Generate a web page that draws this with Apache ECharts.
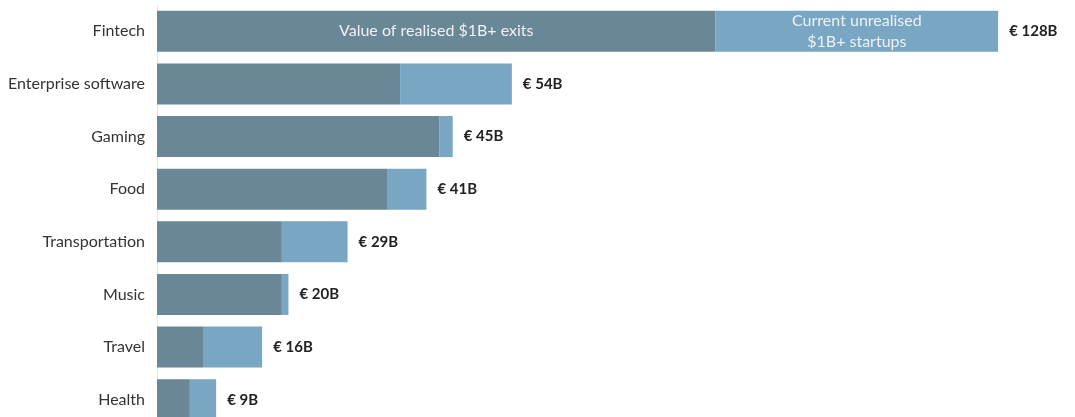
<!DOCTYPE html>
<html>
<head>
<meta charset="utf-8">
<script src="https://cdn.jsdelivr.net/npm/echarts@6/dist/echarts.min.js"></script>
<style>
  html, body { margin: 0; padding: 0; background: #fff; }
  #chart { width: 1075px; height: 417px; }
</style>
</head>
<body>
<div id="chart"></div>
<script>
// sectors, top to bottom
var sectors = ['Fintech', 'Enterprise software', 'Gaming', 'Food', 'Transportation', 'Music', 'Travel', 'Health'];
// € billions
var realised = [85, 37, 43, 35, 19, 19, 7, 5];
var unrealised = [43, 17, 2, 6, 10, 1, 9, 4];
var totals = [128, 54, 45, 41, 29, 20, 16, 9];

var DARK = '#6a8798';
var LIGHT = '#78a6c3';

var chart = echarts.init(document.getElementById('chart'));

var captionStyle = {
    show: true,
    position: 'inside',
    color: '#eef2f5',
    fontSize: 16,
    lineHeight: 21,
    fontWeight: 'normal',
    fontFamily: 'Lato'
};

// only the first bar of each series carries the in-bar caption
var realisedData = realised.map(function (v, i) {
    if (i !== 0) return v;
    return { value: v, label: Object.assign({}, captionStyle, { formatter: 'Value of realised $1B+ exits' }) };
});
var unrealisedData = unrealised.map(function (v, i) {
    if (i !== 0) return v;
    return { value: v, label: Object.assign({}, captionStyle, { formatter: 'Current unrealised\n$1B+ startups' }) };
});

var option = {
    animation: false,
    grid: {
        left: 157,
        top: 5,
        width: 920,
        height: 421,
        containLabel: false,
        outerBoundsMode: 'none'
    },
    xAxis: {
        type: 'value',
        min: 0,
        max: 140,
        show: false
    },
    yAxis: {
        type: 'category',
        inverse: true,
        data: sectors,
        axisLine: { show: true, lineStyle: { color: '#e6e6e6', width: 1 } },
        axisTick: { show: false },
        axisLabel: {
            color: '#333',
            fontSize: 16,
            fontFamily: 'Lato',
            margin: 12
        }
    },
    series: [
        {
            name: 'Realised',
            type: 'bar',
            stack: 'total',
            barCategoryGap: '22%',
            itemStyle: { color: DARK },
            data: realisedData
        },
        {
            name: 'Unrealised',
            type: 'bar',
            stack: 'total',
            itemStyle: { color: LIGHT },
            data: unrealisedData
        },
        {
            // zero-length cap at the end of each stack, only holds the total label
            name: 'Total',
            type: 'bar',
            stack: 'total',
            itemStyle: { color: 'transparent' },
            label: {
                show: true,
                position: 'right',
                distance: 11,
                color: '#222',
                fontWeight: 'bold',
                fontSize: 15,
                fontFamily: 'Lato',
                formatter: function (p) {
                    return '€ ' + totals[p.dataIndex] + 'B';
                }
            },
            data: totals.map(function () { return 0; })
        }
    ]
};

chart.setOption(option);
</script>
</body>
</html>
